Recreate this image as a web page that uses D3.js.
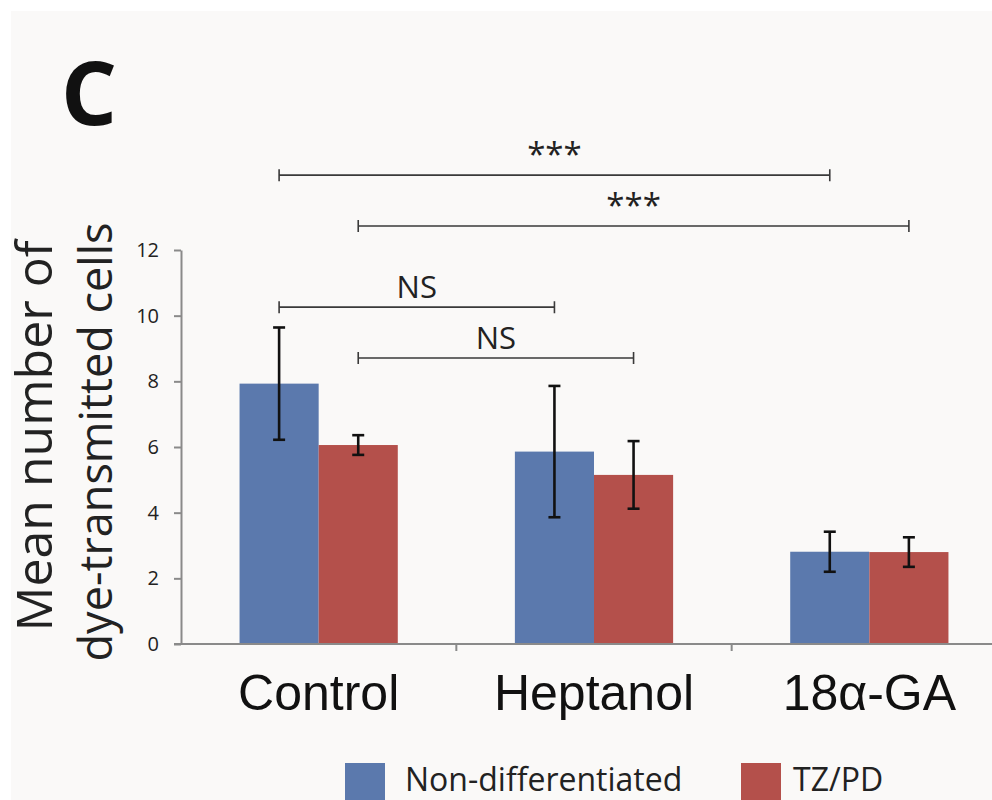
<!DOCTYPE html>
<html>
  <head>
    <meta charset="utf-8">
    <title>Mean number of dye-transmitted cells</title>
    <script src="https://cdn.jsdelivr.net/npm/d3@7"></script>
    <style>
      body { margin: 0; background: #fff; }
      .calibri { font-family: "Open Sans", "DejaVu Sans", sans-serif; }
      .arial { font-family: "Liberation Sans", Arial, sans-serif; }
    </style>
  </head>
  <body>
    <div id="chart"></div>
    <script>
      // data
      var categories = ["Control", "Heptanol", "18α-GA"];
      var series = ["Non-differentiated", "TZ/PD"];
      var nonDiff = [7.93, 5.86, 2.81];
      var nonDiffErr = [1.71, 2.0, 0.61];
      var tzpd = [6.06, 5.15, 2.8];
      var tzpdErr = [0.3, 1.03, 0.45];
      var yTicks = [0, 2, 4, 6, 8, 10, 12];
      var colors = ["#5b79ad", "#b4504b"];

      // significance brackets: [from category, from series, to category, to series, height, label]
      var brackets = [
        ["Control", 0, "18α-GA", 0, 14.28, "***"],
        ["Control", 1, "18α-GA", 1, 12.73, "***"],
        ["Control", 0, "Heptanol", 0, 10.26, "NS"],
        ["Control", 1, "Heptanol", 1, 8.71, "NS"]
      ];

      var width = 992, height = 800;

      var svg = d3.select("#chart").append("svg")
          .attr("width", width)
          .attr("height", height);

      // off-white panel like the scanned figure
      svg.append("rect")
          .attr("x", 11).attr("y", 11)
          .attr("width", width - 11).attr("height", height - 11)
          .attr("fill", "#faf9f8");

      var x0 = d3.scaleBand()
          .domain(categories)
          .range([181, 1007])
          .padding(0);

      var x1 = d3.scaleBand()
          .domain(d3.range(series.length))
          .range([0, x0.bandwidth()])
          .paddingInner(0)
          .paddingOuter(0.74);

      var y = d3.scaleLinear()
          .domain([0, 12])
          .range([644, 250]);

      var values = [nonDiff, tzpd];
      var errors = [nonDiffErr, tzpdErr];

      var rows = [];
      categories.forEach(function(c, i) {
        series.forEach(function(s, j) {
          rows.push({cat: c, s: j, v: values[j][i], e: errors[j][i]});
        });
      });

      // bars
      svg.append("g").selectAll("rect")
          .data(rows)
          .enter().append("rect")
          .attr("x", function(d) { return x0(d.cat) + x1(d.s); })
          .attr("y", function(d) { return y(d.v); })
          .attr("width", x1.bandwidth())
          .attr("height", function(d) { return y(0) - y(d.v); })
          .attr("fill", function(d) { return colors[d.s]; });

      // y axis
      var yAxis = svg.append("g")
          .attr("class", "calibri")
          .attr("transform", "translate(181,0)")
          .call(d3.axisLeft(y).tickValues(yTicks).tickSize(7).tickSizeOuter(0).tickPadding(15));
      yAxis.select(".domain").attr("stroke", "#8a8a8a").attr("stroke-width", 2);
      yAxis.selectAll(".tick line").attr("stroke", "#8a8a8a").attr("stroke-width", 2);
      yAxis.selectAll(".tick text").attr("font-size", 20).attr("fill", "#222");

      // x axis line with ticks between categories
      var xAxis = svg.append("g")
          .attr("class", "arial")
          .attr("transform", "translate(0," + y(0) + ")")
          .call(d3.axisBottom(x0).tickSize(0).tickPadding(30));
      xAxis.select(".domain").attr("stroke", "#8a8a8a").attr("stroke-width", 2)
          .attr("d", "M174,0H" + width);
      xAxis.selectAll(".tick text").attr("font-size", 50).attr("fill", "#111")
          .attr("dy", "0.71em");
      xAxis.selectAll(".sep")
          .data(categories.slice(1))
          .enter().append("line")
          .attr("class", "sep")
          .attr("x1", function(d) { return x0(d); })
          .attr("x2", function(d) { return x0(d); })
          .attr("y1", 0).attr("y2", 7)
          .attr("stroke", "#8a8a8a").attr("stroke-width", 2);

      // error bars
      var eb = svg.append("g").attr("stroke", "#111").attr("stroke-width", 2.6);
      rows.forEach(function(d) {
        var cx = x0(d.cat) + x1(d.s) + x1.bandwidth() / 2;
        eb.append("line").attr("x1", cx).attr("x2", cx)
            .attr("y1", y(d.v + d.e)).attr("y2", y(d.v - d.e));
        [d.v + d.e, d.v - d.e].forEach(function(t) {
          eb.append("line").attr("x1", cx - 6).attr("x2", cx + 6)
              .attr("y1", y(t)).attr("y2", y(t));
        });
      });

      // significance brackets
      var bg = svg.append("g").attr("class", "calibri");
      brackets.forEach(function(b) {
        var xa = x0(b[0]) + x1(b[1]) + x1.bandwidth() / 2;
        var xb = x0(b[2]) + x1(b[3]) + x1.bandwidth() / 2;
        var yy = y(b[4]);
        bg.append("path")
            .attr("d", "M" + xa + "," + (yy - 6) + "V" + (yy + 6) + "M" + xa + "," + yy + "H" + xb +
                       "M" + xb + "," + (yy - 6) + "V" + (yy + 6))
            .attr("fill", "none")
            .attr("stroke", "#3a3a3a")
            .attr("stroke-width", 1.6);
        bg.append("text")
            .attr("x", (xa + xb) / 2)
            .attr("y", yy - 9)
            .attr("text-anchor", "middle")
            .attr("font-size", b[5] === "NS" ? 31 : 33)
            .attr("fill", "#222")
            .text(b[5]);
      });

      // y axis title, two lines
      svg.append("text")
          .attr("class", "calibri")
          .attr("transform", "translate(52,436) rotate(-90)")
          .attr("text-anchor", "middle")
          .attr("font-size", 50)
          .attr("fill", "#222")
          .text("Mean number of");
      svg.append("text")
          .attr("class", "calibri")
          .attr("transform", "translate(112,442) rotate(-90)")
          .attr("text-anchor", "middle")
          .attr("font-size", 45)
          .attr("fill", "#222")
          .text("dye-transmitted cells");

      // panel letter
      svg.append("text")
          .attr("class", "calibri")
          .attr("x", 61).attr("y", 125)
          .attr("font-size", 88)
          .attr("font-weight", "bold")
          .attr("fill", "#111")
          .text("C");

      // legend (bottom edge of the figure crops the swatches)
      var legendX = [345, 741];
      var legendGap = [60, 52];
      var legend = svg.append("g").attr("class", "calibri");
      series.forEach(function(s, i) {
        legend.append("rect")
            .attr("x", legendX[i]).attr("y", 763)
            .attr("width", 40).attr("height", 42)
            .attr("fill", colors[i]);
        legend.append("text")
            .attr("x", legendX[i] + legendGap[i]).attr("y", 791)
            .attr("font-size", 32)
            .attr("fill", "#222")
            .text(s);
      });
    </script>
  </body>
</html>
